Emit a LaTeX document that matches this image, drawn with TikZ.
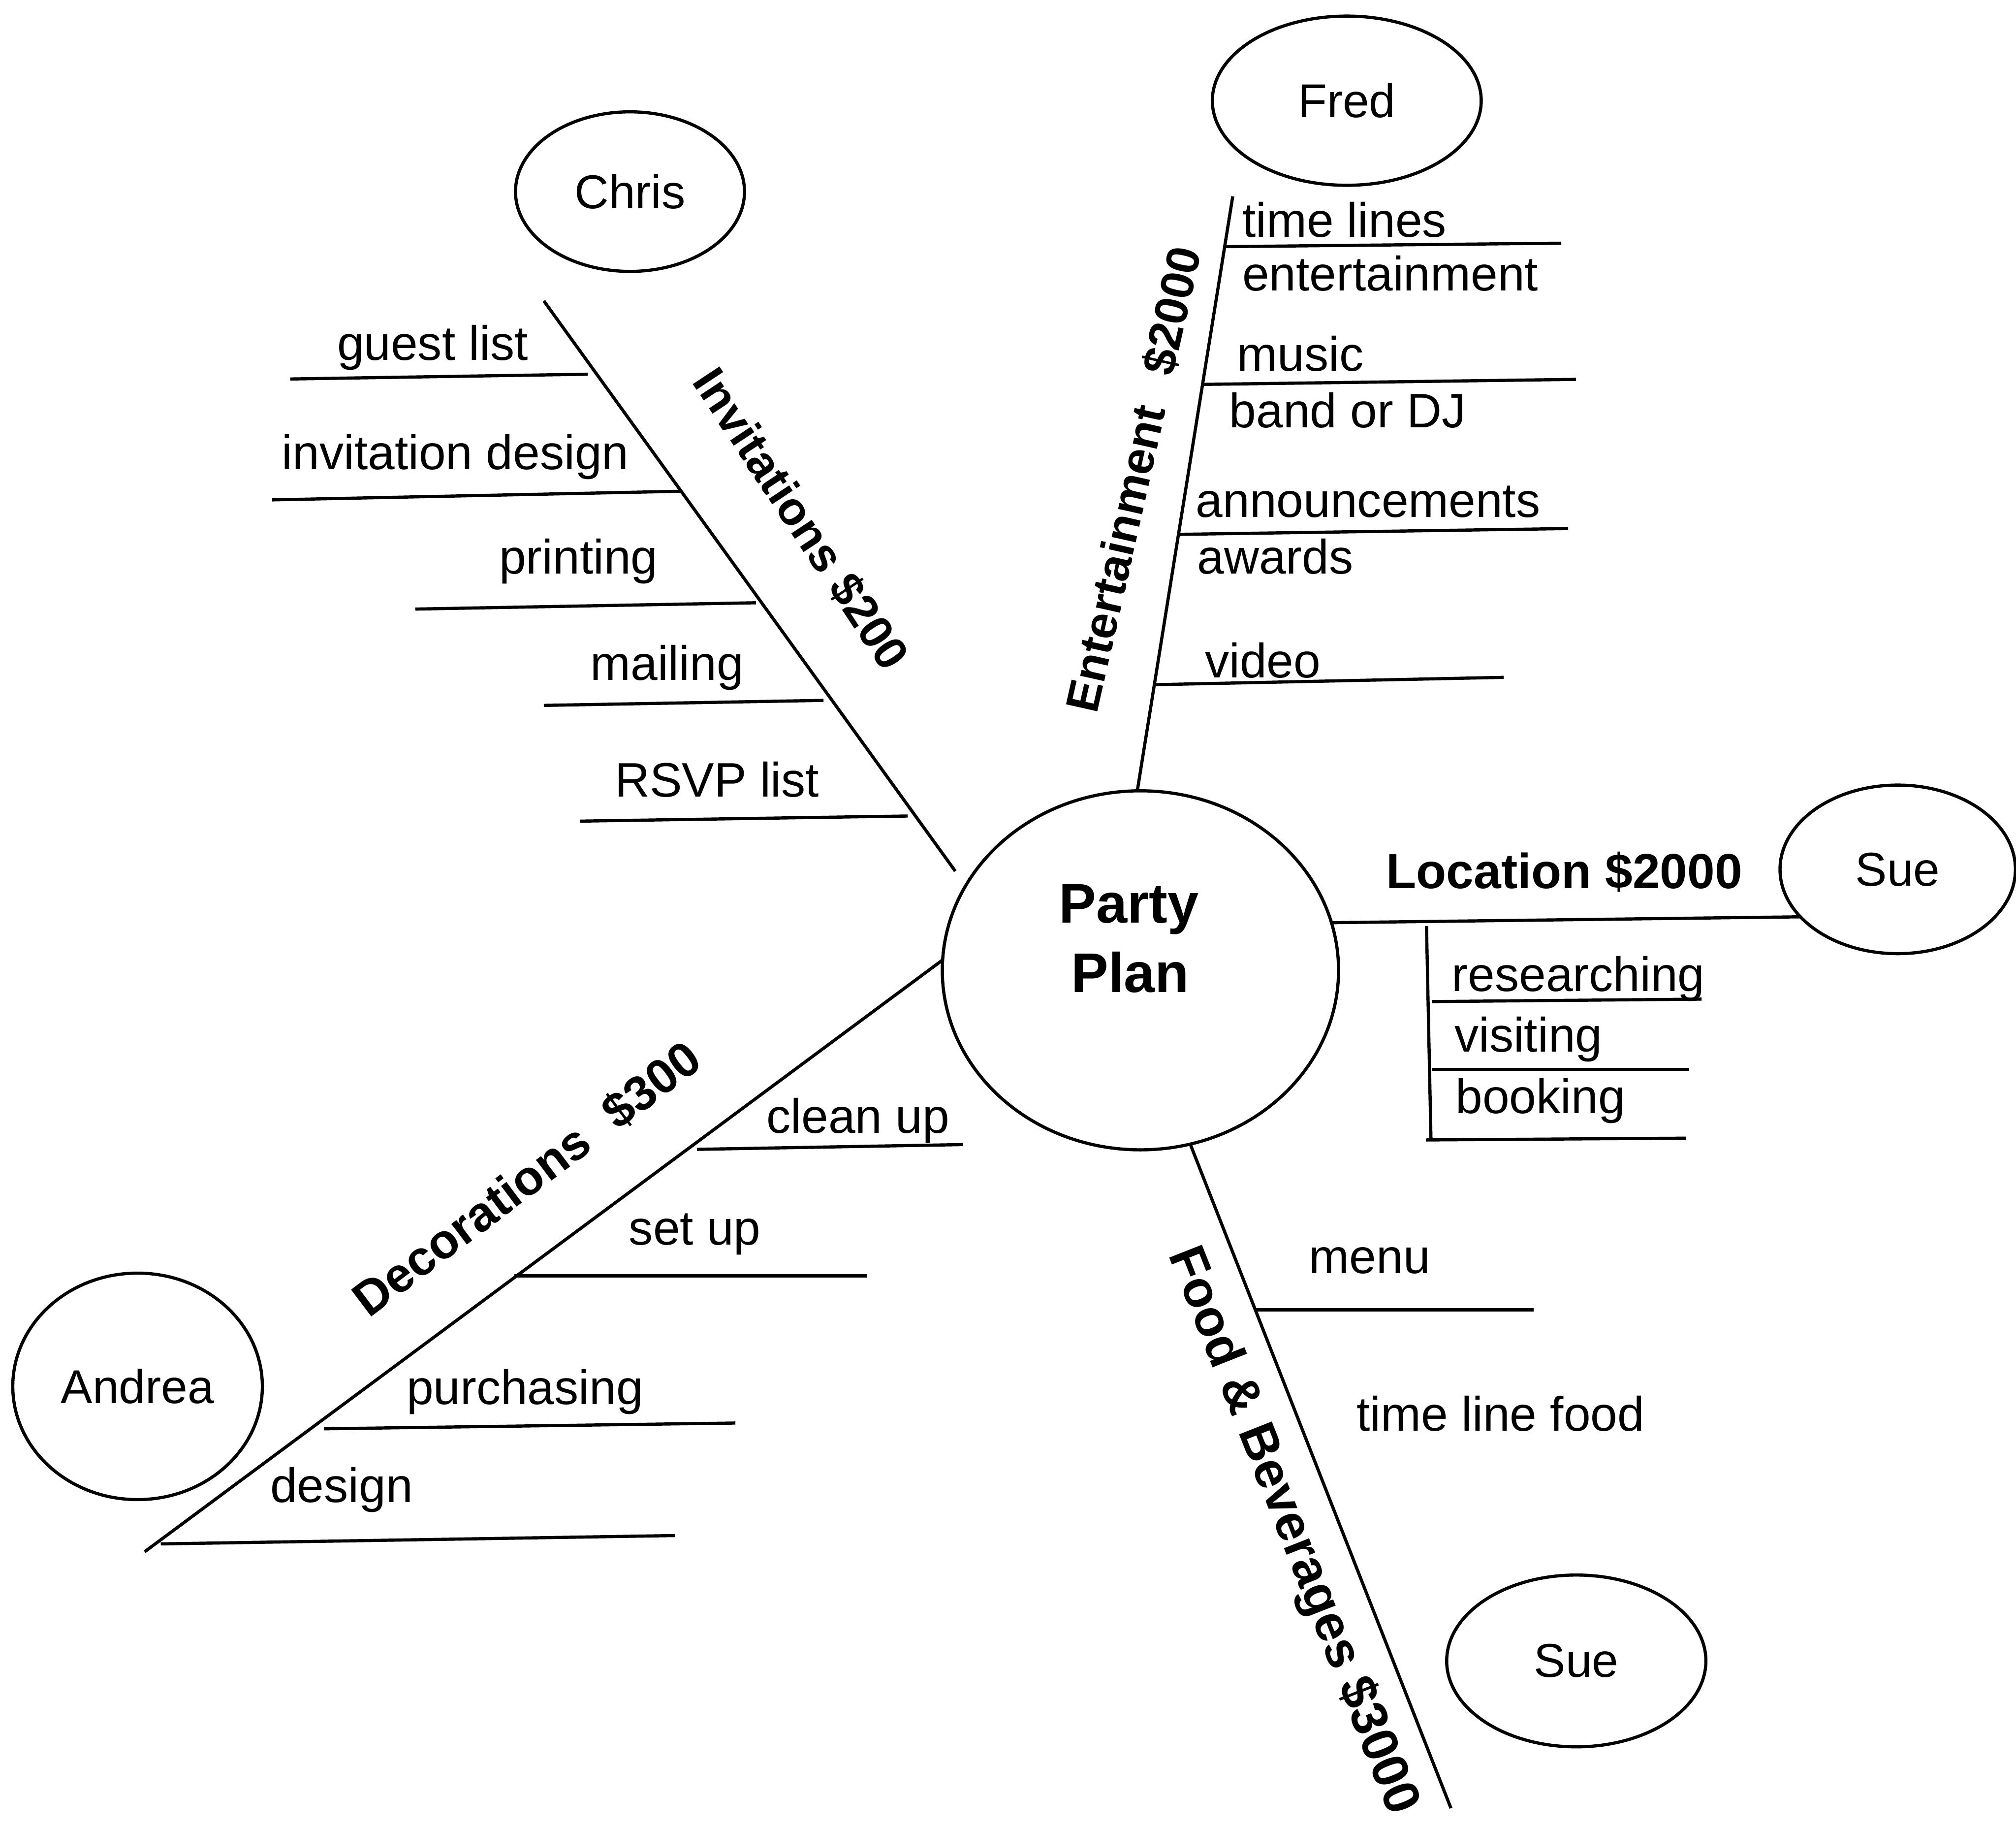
\documentclass[tikz,border=0pt]{standalone}
\usepackage{fontspec}
\setmainfont{Liberation Sans}
\usetikzlibrary{shapes.geometric}

\begin{document}
\begin{tikzpicture}[x=0.01cm, y=-0.01cm, line width=0.7pt,
  hub/.style={draw, ellipse, inner sep=0pt, outer sep=0pt},
  person/.style={draw, ellipse, inner sep=0pt, outer sep=0pt,
    font=\fontsize{10.5}{12}\selectfont},
  item/.style={inner sep=0pt, anchor=base west,
    font=\fontsize{10.7}{12.8}\selectfont},
  branch/.style={inner sep=0pt, anchor=base west,
    font=\bfseries\fontsize{10.9}{13}\selectfont},
  title/.style={inner sep=0pt, anchor=base,
    font=\bfseries\fontsize{12.35}{15}\selectfont},
]
\path[use as bounding box, fill=white] (0,0) rectangle (1568,1420.3);

% central topic
\node[hub, minimum width=3.08cm, minimum height=2.79cm] (plan) at (887,754.5) {};
\node[title] (party) at (878,717.6) {Party};
\node[title] (planword) at (879,771.5) {Plan};

% people in charge
\node[person, minimum width=1.78cm,  minimum height=1.24cm]  (chris)  at (490,149)     {Chris};
\node[person, minimum width=2.09cm,  minimum height=1.315cm] (fred)   at (1047.5,78.3) {Fred};
\node[person, minimum width=1.83cm,  minimum height=1.31cm]  (sueL)   at (1476,676)    {Sue};
\node[person, minimum width=2.015cm, minimum height=1.335cm] (sueF)   at (1226,1291.5) {Sue};
\node[person, minimum width=1.94cm,  minimum height=1.76cm]  (andrea) at (107,1078)    {Andrea};

% main branches
\coordinate (invTop)  at (423,234);
\coordinate (invEnd)  at (743,677.4);
\coordinate (entTop)  at (958.8,152.7);
\coordinate (foodEnd) at (1128.5,1406);
\coordinate (decEnd)  at (112.5,1206.6);

\draw (invTop) -- (invEnd);
\draw (plan.91.4) -- (entTop);
\draw (plan.14.6) -- (sueL.206);
\draw (plan.-74.5) -- (foodEnd);
\draw (plan.177.8) -- (decEnd);

% branch titles
\node[branch, rotate=-56.5, font=\bfseries\fontsize{10.3}{12}\selectfont] (invLabel) at (537,296) {Invitations \$200};
\node[branch, rotate=77.3, font=\bfseries\fontsize{10.3}{12}\selectfont] (entLabel) at (853,557) {Entertainment\hspace{0.7em}\$2000};
\node[branch] (locLabel) at (1077,690.7) {Location \$2000};
\node[branch, rotate=-68.5, font=\bfseries\fontsize{11.3}{13}\selectfont] (foodLabel) at (908.3,974.3) {Food \& Beverages \$3000};
\node[branch, rotate=37, font=\bfseries\fontsize{10.8}{13}\selectfont] (decLabel) at (286,1026) {Decorations\hspace{0.6em}\$300};

% invitations tasks
\draw (225.7,294.7) -- (457,291);
\draw (211.7,388.7) -- (529,382);
\draw (323,473.6) -- (588,468.7);
\draw (423,548.5) -- (640.5,544.6);
\draw (451,638.5) -- (706,634.5);
\node[item] (guest)  at (261,280)   {guest list};
\node[item] (design1) at (218,365)  {invitation design};
\node[item] (print)  at (387,446)   {printing};
\node[item] (mail)   at (458,529)   {mailing};
\node[item] (rsvp)   at (477,619.5) {RSVP list};

% entertainment tasks
\draw (953.4,191.8) -- (1214.3,189.1);
\draw (935.7,298.9) -- (1225.8,295);
\draw (917.8,415.5) -- (1219.7,411);
\draw (897.7,532.4) -- (1169.5,526.7);
\node[item] (tl)    at (965,184.5) {time lines};
\node[item] (ent)   at (965,226)   {entertainment};
\node[item] (music) at (961,288.6) {music};
\node[item] (band)  at (955,332.6) {band or DJ};
\node[item] (ann)   at (929,402)   {announcements};
\node[item] (award) at (930,446)   {awards};
\node[item] (video) at (936,527)   {video};

% location tasks
\draw (1109.5,720) -- (1113,886.8);
\draw (1114,778.8) -- (1323.4,776.9);
\draw (1114,831.4) -- (1314,831.4);
\draw (1109,886.4) -- (1311.4,885);
\node[item] (research) at (1128,770.8) {researching};
\node[item] (visit)    at (1130,818)   {visiting};
\node[item] (book)     at (1131,865.8) {booking};

% food tasks
\draw (976.2,1018.5) -- (1193,1018.5);
\node[item] (menu)  at (1017,990.3)  {menu};
\node[item] (tlf)   at (1054,1112.5) {time line food};

% decoration tasks
\draw (542,893.7) -- (749,890);
\draw (400,992) -- (674.6,992);
\draw (252,1111) -- (572,1106.5);
\draw (125,1200.5) -- (525,1194);
\node[item] (clean)  at (595,881)   {clean up};
\node[item] (setup)  at (488,968)   {set up};
\node[item] (purch)  at (315,1092)  {purchasing};
\node[item] (design2) at (209,1168) {design};
\end{tikzpicture}
\end{document}
